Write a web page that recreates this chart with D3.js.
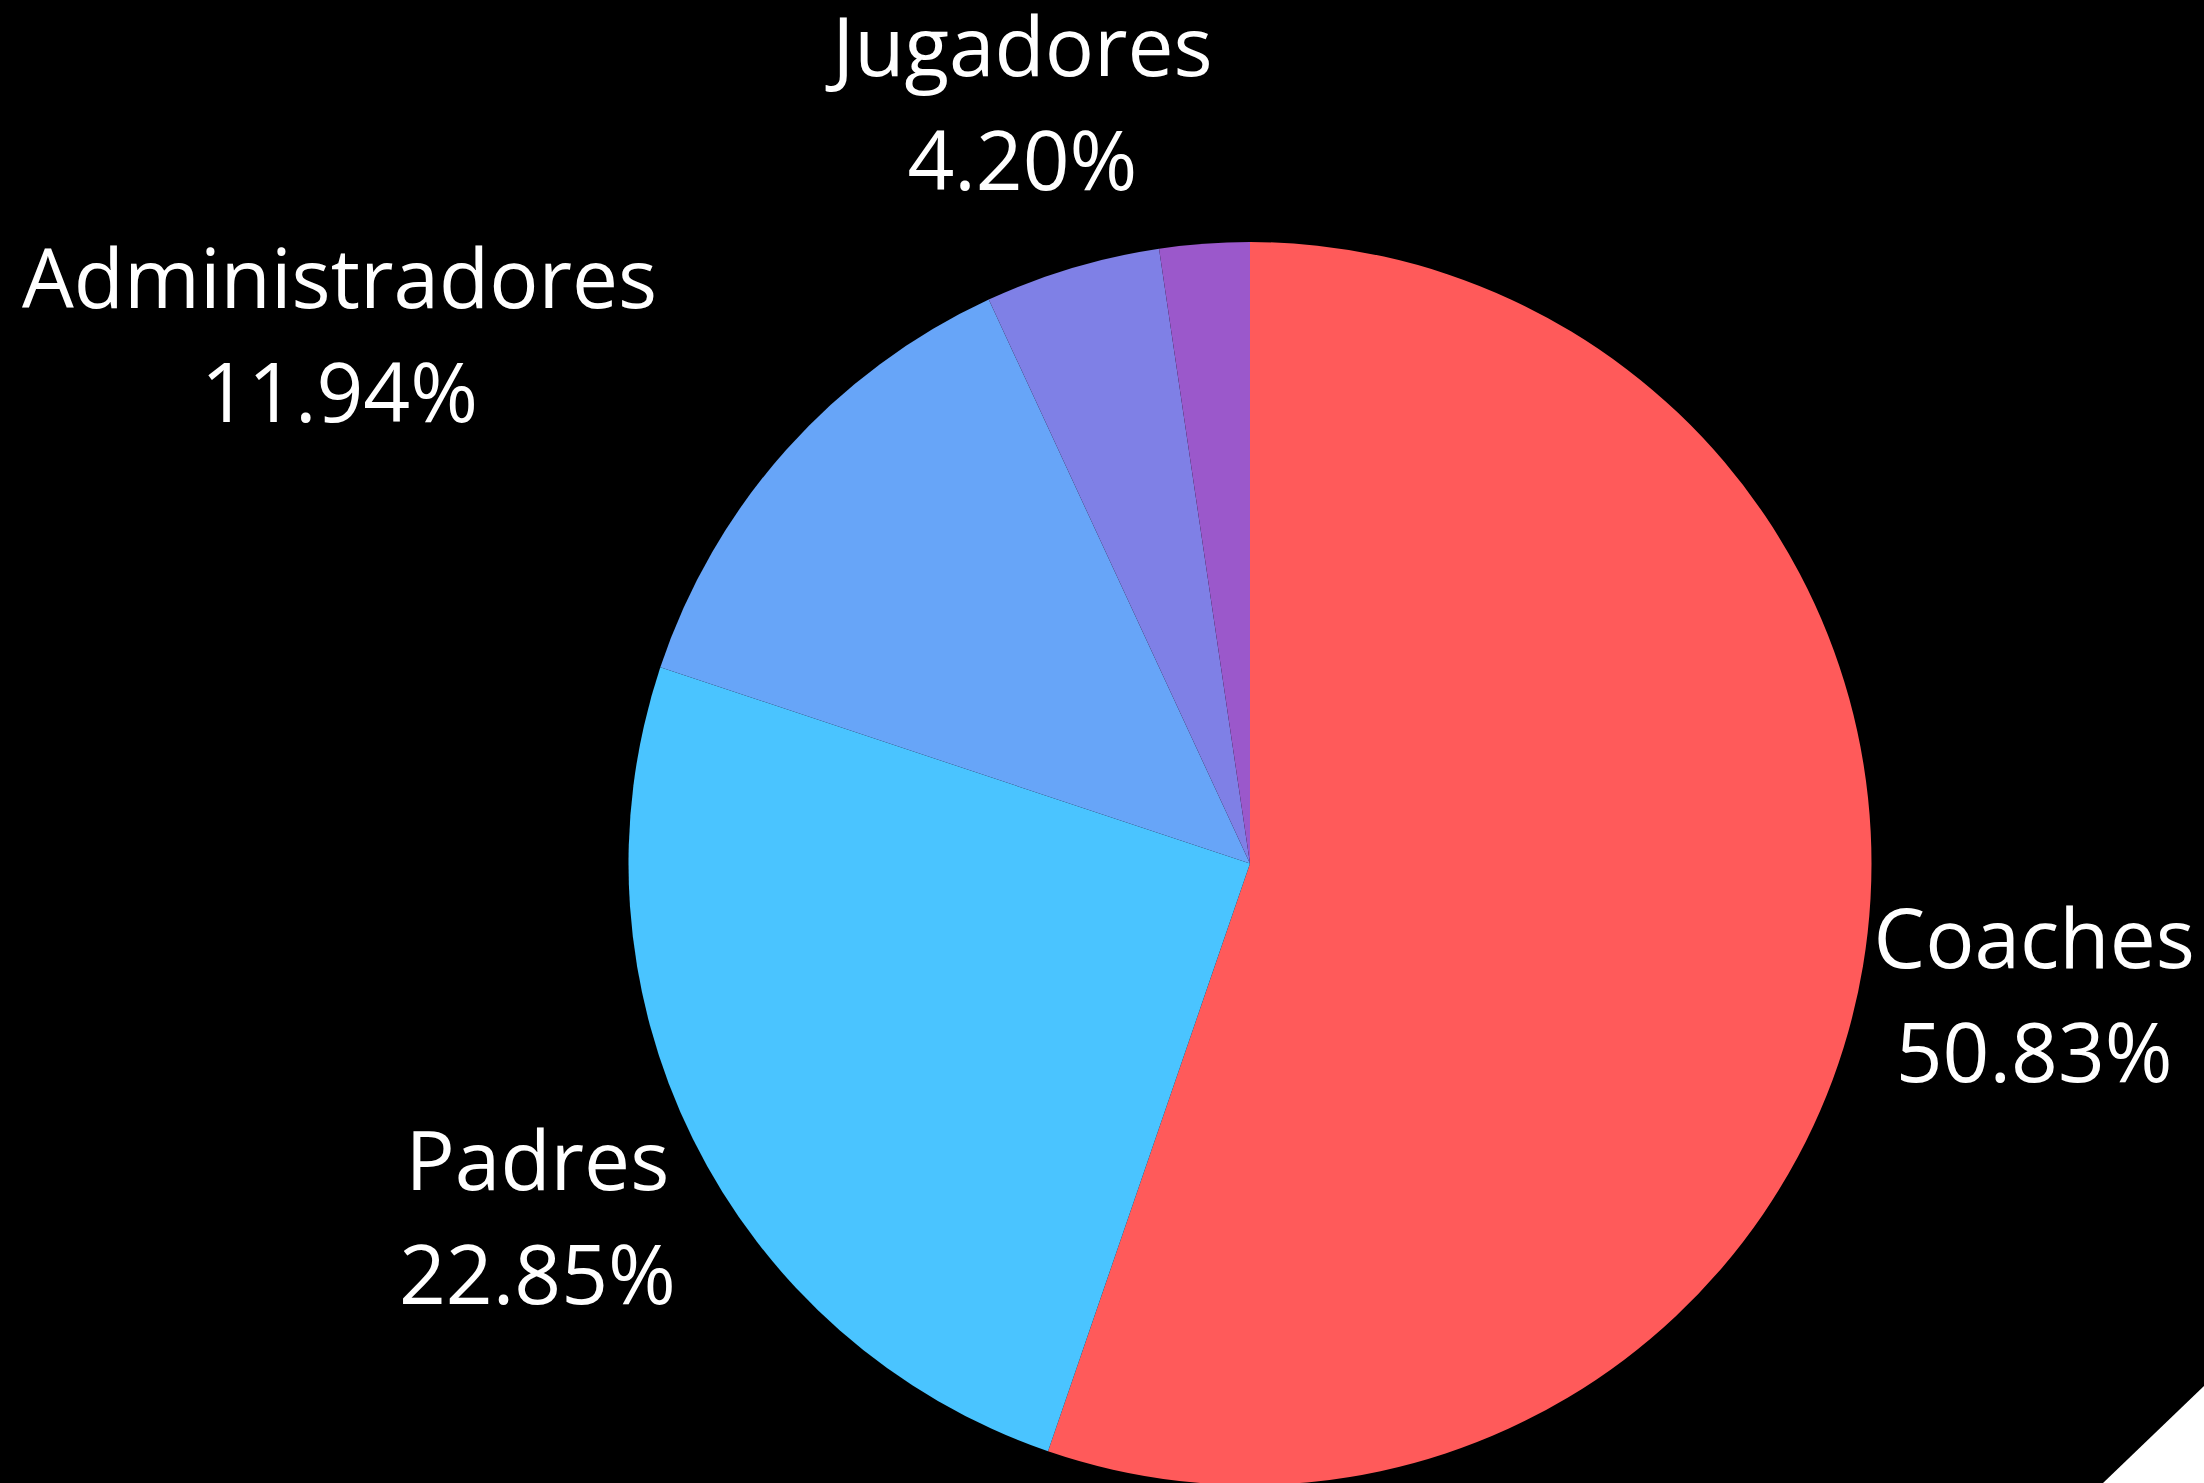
<!DOCTYPE html>
<meta charset="utf-8">
<style>
body {margin: 0; background: #000;}
.label {fill: #fff; font-family: "Open Sans", sans-serif; font-size: 82px;}
</style>
<body>
<script src="https://cdn.jsdelivr.net/npm/d3@7"></script>
<script>
var width = 2204, height = 1483
// categories, shares shown in the labels, and slice colours
var categories = ["Coaches", "Padres", "Administradores", "Jugadores", "Otros"]
var values = [50.83, 22.85, 11.94, 4.20, 2.15]
var showLabel = [true, true, true, true, false]
var colors = ["#FF5A5A", "#4AC4FF", "#67A5F8", "#7F80E6", "#9B58CB"]

var cx = 1250, cy = 863.5, radius = 621.5, labelRadius = 795
var lineGap = 114

var data = categories.map(function(c, i) {
  return {name: c, value: values[i], label: showLabel[i]}
})

var svg = d3.select("body").append("svg")
  .attr("width", width).attr("height", height)
svg.append("rect").attr("width", width).attr("height", height).attr("fill", "#000")

var g = svg.append("g").attr("transform", "translate(" + cx + "," + cy + ")")
var color = d3.scaleOrdinal().domain(categories).range(colors)
var pie = d3.pie().sort(null).value(function(d) { return d.value })
var arc = d3.arc().innerRadius(0).outerRadius(radius)
var labelArc = d3.arc().innerRadius(labelRadius).outerRadius(labelRadius)
var arcs = pie(data)

g.selectAll(".slice")
  .data(arcs).enter().append("path")
  .attr("class", "slice")
  .attr("fill", function(d) { return color(d.data.name) })
  .attr("d", arc)

var fmt = d3.format(".2f")
var labels = g.selectAll(".lab")
  .data(arcs.filter(function(d) { return d.data.label })).enter().append("g")
  .attr("class", "lab")
labels.append("text").attr("class", "label").attr("text-anchor", "middle")
  .attr("y", -26).text(function(d) { return d.data.name })
labels.append("text").attr("class", "label").attr("text-anchor", "middle")
  .attr("y", lineGap - 26).text(function(d) { return fmt(d.data.value) + "%" })

// place each label block on the label ring; push it outward if it would touch the pie
labels.each(function(d) {
  var p = labelArc.centroid(d)
  var w = 0
  d3.select(this).selectAll("text").each(function() {
    w = Math.max(w, this.getComputedTextLength())
  })
  var top = p[1] - 26 - 60, bottom = p[1] + lineGap - 26
  var corners = [[p[0] - w / 2, top], [p[0] + w / 2, top], [p[0] - w / 2, bottom], [p[0] + w / 2, bottom]]
  var hit = corners.some(function(c) { return Math.hypot(c[0], c[1]) < radius })
  var x = p[0]
  if (hit) x = p[0] < 0 ? p[0] - w / 2 : p[0] + w / 2
  d3.select(this).attr("transform", "translate(" + x + "," + p[1] + ")")
})

// white corner fold, bottom right
svg.append("path")
  .attr("d", "M" + width + "," + (height - 97) + "L" + width + "," + height + "L" + (width - 101) + "," + height + "Z")
  .attr("fill", "#fff")
</script>
